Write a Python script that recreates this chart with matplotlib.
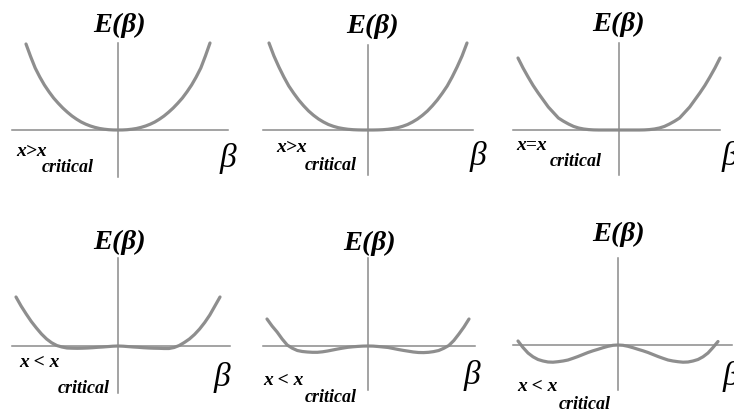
import numpy as np
import matplotlib
matplotlib.use("Agg")
import matplotlib.pyplot as plt

W, H = 734, 411

# ---- data: normalised beta grid and E(beta) (arbitrary units) ----
beta = [-1.0, -0.95, -0.9, -0.85, -0.8, -0.75, -0.7, -0.65, -0.6, -0.55, -0.5,
        -0.45, -0.4, -0.35, -0.3, -0.25, -0.2, -0.15, -0.1, -0.05, 0.0,
        0.05, 0.1, 0.15, 0.2, 0.25, 0.3, 0.35, 0.4, 0.45, 0.5,
        0.55, 0.6, 0.65, 0.7, 0.75, 0.8, 0.85, 0.9, 0.95, 1.0]

# x > x_critical (panel 1)
E_gt1 = [86, 73.5, 62, 53, 45, 38.2, 32, 26.8, 22, 17.8, 14,
         10.8, 8, 5.8, 4, 2.6, 1.5, 0.8, 0.3, 0.05, 0,
         0.05, 0.3, 0.8, 1.5, 2.6, 4, 5.8, 8, 10.8, 14,
         17.8, 22, 26.8, 32, 38.2, 45, 53, 62, 74, 87]
# x > x_critical (panel 2)
E_gt2 = [87, 74, 63, 53, 44, 36.7, 30, 24.2, 19, 14.7, 11,
         8, 5.5, 3.7, 2.3, 1.4, 0.7, 0.3, 0.1, 0, 0,
         0, 0.1, 0.3, 0.7, 1.4, 2.3, 3.7, 5.5, 8, 11,
         14.7, 19, 24.2, 30, 36.7, 44, 53, 63, 74, 87]
# x = x_critical
E_eq = [72, 62, 53, 44.5, 37, 30, 23, 17.5, 12, 8.8, 6,
        3.6, 2, 1, 0.4, 0.1, 0, 0, 0, 0, 0,
        0, 0, 0, 0, 0.1, 0.4, 1, 2, 3.6, 6,
        8.8, 12, 17.5, 23, 30, 37, 44.5, 53, 62, 72]
# x < x_critical (panel 4)
E_lt1 = [49, 40, 32, 24.5, 18, 12, 7, 3.2, 0.5, -1, -2,
         -2.2, -2.3, -2.2, -2, -1.7, -1.3, -1, -0.6, -0.2, 0,
         -0.2, -0.6, -1, -1.3, -1.7, -2, -2.2, -2.3, -2.5, -2.5,
         -1.5, 0.5, 3.5, 7, 11.5, 17, 23.5, 31, 40, 49]
# x < x_critical (panel 5)
E_lt2 = [27, 20, 14, 7, 1, -2.2, -4.5, -5.5, -6, -6.3, -6.3,
         -5.8, -5, -4, -3, -2.1, -1.3, -0.8, -0.4, -0.1, 0,
         -0.1, -0.5, -1, -1.5, -2.5, -3.5, -4.4, -5.2, -6, -6.5,
         -6.6, -6.3, -5.6, -4.5, -2.3, 0.5, 5.5, 12, 19, 27]
# x < x_critical (panel 6)
E_lt3 = [4, -2.5, -8, -11.8, -14.5, -16, -17, -17.2, -16.7, -16, -15,
         -13.3, -11.5, -9.5, -7.5, -5.8, -4.3, -2.7, -1.3, -0.3, 0,
         -0.3, -1.3, -2.7, -4.3, -5.8, -7.5, -9.5, -11.5, -13.3, -15,
         -16, -16.7, -17.2, -17, -16, -14.5, -11.8, -8, -2.5, 3.5]

series = [E_gt1, E_gt2, E_eq, E_lt1, E_lt2, E_lt3]
cond_left = ["x>x", "x>x", "x=x", "x < x", "x < x", "x < x"]
cond_sub = ["critical"] * 6

# ---- layout (pixels of the 734x411 canvas) ----
layout = [
    dict(cx=118, cy=130, hw=92, hx=(12, 228), vy=(43, 177),
         E=(120, 25), b=(228, 158), c1=(16, 151), c2=(42, 167)),
    dict(cx=368, cy=130, hw=99, hx=(263, 473), vy=(45, 175),
         E=(373, 26), b=(478, 157), c1=(276, 147), c2=(305, 166)),
    dict(cx=619, cy=130, hw=101, hx=(513, 720), vy=(43, 175),
         E=(619, 24), b=(730, 157), c1=(516, 146), c2=(550, 162)),
    dict(cx=118, cy=346, hw=102, hx=(12, 230), vy=(258, 393),
         E=(120, 242), b=(222, 377), c1=(19, 362), c2=(58, 388)),
    dict(cx=368, cy=346, hw=101, hx=(263, 475), vy=(258, 390),
         E=(370, 243), b=(472, 375), c1=(263, 380), c2=(305, 397)),
    dict(cx=618, cy=345, hw=100, hx=(513, 732), vy=(258, 390),
         E=(619, 234), b=(731, 376), c1=(517, 386), c2=(559, 404)),
]

CURVE = "#8e8e8e"
AXIS = "#8a8a8a"
serif = ["Liberation Serif", "DejaVu Serif"]

fig = plt.figure(figsize=(W / 100, H / 100), dpi=100)
fig.patch.set_facecolor("white")

for Ev, L in zip(series, layout):
    ax = fig.add_axes([0, 0, 1, 1])
    ax.set_facecolor("none")
    cx, cy, hw = L["cx"], L["cy"], L["hw"]
    ax.set_xlim((0 - cx) / hw, (W - cx) / hw)
    ax.set_ylim(cy - H, cy - 0)
    for s in ["top", "right"]:
        ax.spines[s].set_visible(False)
    ax.spines["left"].set_position(("data", 0))
    ax.spines["bottom"].set_position(("data", 0))
    ax.spines["bottom"].set_bounds((L["hx"][0] - cx) / hw, (L["hx"][1] - cx) / hw)
    ax.spines["left"].set_bounds(cy - L["vy"][1], cy - L["vy"][0])
    for s in ["left", "bottom"]:
        ax.spines[s].set_color(AXIS)
        ax.spines[s].set_linewidth(1.1)
    ax.set_xticks([])
    ax.set_yticks([])
    ax.plot(beta, Ev, color=CURVE, lw=2.3, solid_capstyle="round", solid_joinstyle="round")

    fig.text(L["E"][0] / W, 1 - L["E"][1] / H, "E(β)", family=serif, style="italic",
             weight="bold", fontsize=20.5, ha="center", va="center", color="black")
    fig.text(L["b"][0] / W, 1 - L["b"][1] / H, "β", family=serif, style="italic",
             fontsize=24, ha="center", va="center", color="black")

for L, c1, c2 in zip(layout, cond_left, cond_sub):
    fig.text(L["c1"][0] / W, 1 - L["c1"][1] / H, c1, family=serif, style="italic",
             weight="bold", fontsize=14, ha="left", va="center", color="black")
    fig.text(L["c2"][0] / W, 1 - L["c2"][1] / H, c2, family=serif, style="italic",
             weight="bold", fontsize=13, ha="left", va="center", color="black")

fig.savefig("out.png", dpi=100)
